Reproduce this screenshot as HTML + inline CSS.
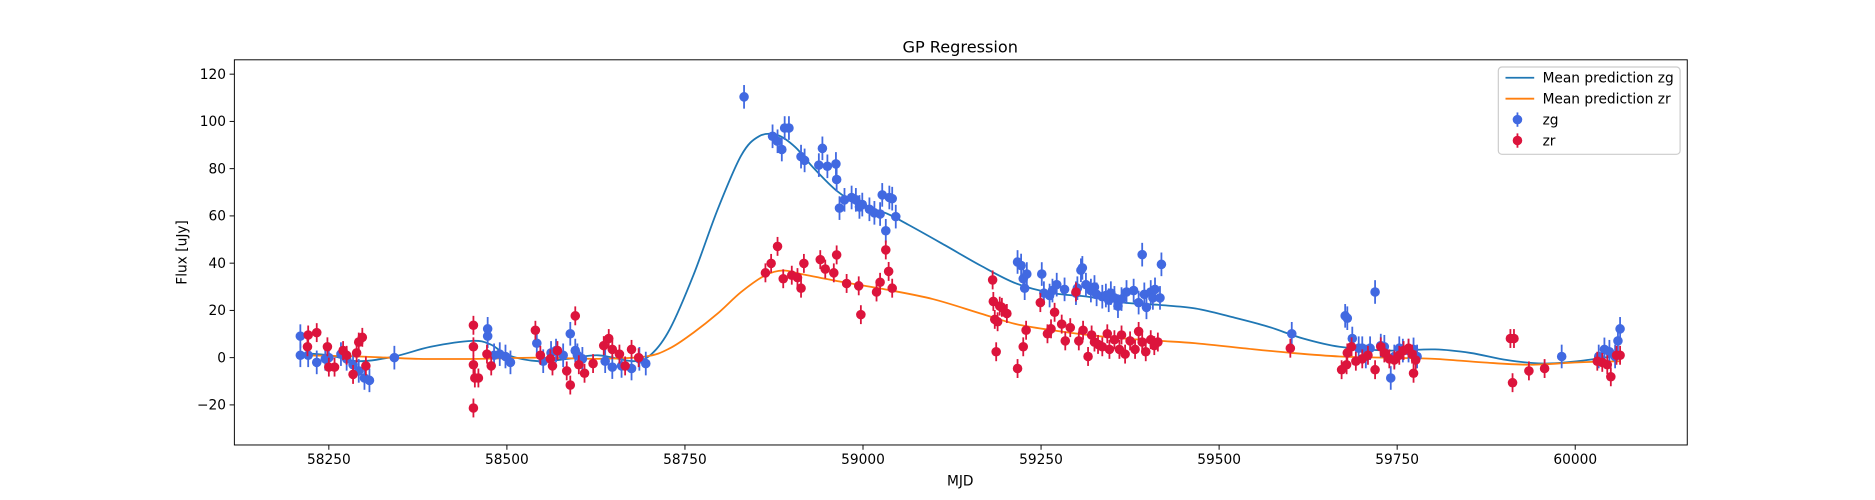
<!DOCTYPE html>
<html><head><meta charset="utf-8"><style>
body{margin:0;background:#fff;overflow:hidden;}
svg{font-family:"DejaVu Sans","Liberation Sans",sans-serif;display:block;}
</style></head><body>
<svg id="chart" width="1875" height="500" viewBox="0 0 1568 418" preserveAspectRatio="none" xmlns="http://www.w3.org/2000/svg">
<rect width="1568" height="418" fill="#fff"/>
<g id="plot"></g>
</svg>
<script>
const xTicks=[58250,58500,58750,59000,59250,59500,59750,60000];
const yTicks=[-20,0,20,40,60,80,100,120];
const zgMjd=[58210,58210,58221,58233,58245,58250,58267,58275,58284,58292,58300,58307,58342,58473,58473,58482,58490,58498,58505,58542,58551,58562,58569,58579,58589,58596,58599,58606,58638,58648,58661,58675,58686,58695,58833,58873,58880,58886,58890,58896,58913,58918,58938,58943,58950,58962,58963,58967,58974,58984,58990,58995,58999,59009,59016,59024,59027,59032,59037,59041,59046,59217,59222,59225,59227,59230,59251,59254,59262,59266,59272,59283,59299,59301,59306,59308,59313,59320,59325,59328,59336,59341,59345,59348,59353,59358,59363,59370,59380,59387,59392,59395,59398,59404,59407,59410,59417,59419,59602,59677,59680,59687,59696,59701,59706,59712,59719,59727,59732,59741,59746,59753,59758,59766,59773,59778,59981,60033,60041,60048,60056,60060,60063];
const zgFlux=[9.1,1.0,1.0,-2.0,-0.5,0,1.5,-0.5,-3,-5.6,-8.6,-9.6,0,9.1,12.2,1.0,1.5,0.5,-2.0,6.1,-1.5,2.0,3.0,1.0,10.1,3.0,1.0,-0.5,-1.5,-4.0,-3.5,-4.6,-0.5,-2.5,110.4,93.7,91.6,88.1,97.2,97.2,85.1,83.5,81.5,88.6,81.0,82.0,75.4,63.3,66.8,67.8,66.8,63.8,64.8,62.8,61.3,60.8,68.9,53.7,67.8,67.3,59.7,40.5,39.0,33.4,29.4,35.4,35.4,27.3,26.3,28.4,30.9,28.9,27.3,29.4,37.0,38.0,30.9,28.4,29.9,26.8,25.8,26.3,24.3,27.3,25.3,21.8,24.8,27.8,28.4,23.3,43.6,26.8,21.3,27.8,25.3,28.9,25.3,39.5,10.1,17.7,16.7,8.1,4.0,4.0,0.5,4.0,27.8,5.1,4.6,-8.6,0.5,4.0,3.0,3.0,3.5,0.5,0.5,0.5,3.5,2.5,0.5,7.1,12.2];
const zrMjd=[58220,58221,58233,58248,58250,58258,58270,58275,58284,58289,58292,58297,58302,58453,58453,58453,58455,58460,58453,58472,58478,58540,58547,58561,58564,58571,58584,58589,58596,58601,58609,58621,58636,58643,58648,58658,58666,58675,58685,58863,58871,58880,58888,58900,58908,58913,58917,58940,58947,58959,58963,58977,58994,58997,59019,59024,59032,59036,59041,59182,59183,59185,59187,59189,59192,59195,59202,59217,59225,59229,59249,59259,59264,59269,59279,59284,59291,59299,59303,59309,59316,59321,59325,59330,59336,59343,59346,59353,59360,59363,59368,59375,59382,59387,59392,59397,59404,59409,59414,59600,59672,59679,59680,59686,59692,59701,59709,59719,59727,59732,59739,59746,59753,59759,59766,59771,59773,59776,59909,59912,59914,59935,59957,60031,60038,60045,60050,60058,60063];
const zrFlux=[4.6,9.6,10.6,4.6,-4.0,-4.0,3.0,1.0,-7.1,2.0,6.6,8.6,-3.5,13.7,4.6,-3.0,-8.6,-8.6,-21.3,1.5,-3.5,11.6,1.0,-0.5,-3.5,3.0,-5.6,-11.6,17.7,-3.0,-6.6,-2.5,5.1,8.1,3.5,1.5,-3.5,3.5,0,35.9,39.9,47.1,33.4,34.9,33.9,29.4,39.9,41.5,37.5,35.9,43.5,31.4,30.4,18.2,27.8,31.9,45.6,36.5,29.4,32.9,23.8,16.2,2.5,15.2,21.8,21.3,18.7,-4.6,4.6,11.6,23.3,10.1,12.2,19.2,14.2,7.1,12.7,27.8,7.1,11.6,0.5,9.6,6.6,5.6,4.6,10.1,3.5,7.6,3.5,9.6,1.5,7.1,3.5,11.1,6.6,2.5,7.6,5.1,6.6,4.0,-5.1,-3.0,2.0,4.6,-1.5,-0.5,1.0,-5.1,4.6,2.0,-0.5,-1.0,1.0,3.0,4.0,1.5,-6.6,-1.0,8.1,-10.6,8.1,-5.6,-4.6,-1.5,-2.0,-3.0,-8.1,1.0,1.0];
const errZg=5, errZr=4;
const zgCurveMjd=[58208,58250,58292,58342,58393,58451,58477,58502,58544,58586,58628,58678,58703,58729,58762,58796,58829,58854,58880,58905,58930,58964,58997,59031,59064,59115,59165,59215,59266,59316,59366,59417,59467,59518,59568,59618,59669,59736,59803,59853,59904,59954,60004,60063];
const zgCurveFlux=[2.0,1.0,-1.5,0.5,4.6,7.1,5.6,1.0,-1.5,-0.5,1.0,-1.5,1.5,12.2,35.0,62.8,85.6,93.7,94.2,89.1,80.5,70.4,64.3,61.3,56.2,47.6,39.0,31.4,27.3,25.8,23.3,22.3,20.8,17.2,13.2,8.1,4.6,3.0,3.5,2.0,-1.0,-2.5,-1.5,1.0];
const zrCurveMjd=[58208,58292,58376,58460,58544,58628,58695,58729,58762,58796,58829,58863,58888,58913,58964,59031,59098,59165,59215,59266,59316,59366,59417,59467,59534,59602,59669,59736,59803,59870,59937,60004,60063];
const zrCurveFlux=[1.0,0.5,-0.5,-0.5,0,-0.5,0.5,4.0,10.6,18.7,27.8,34.9,36.9,35.4,32.4,28.9,24.8,18.7,14.2,11.6,9.6,8.1,7.1,6.1,4.0,2.0,0.5,0,-0.5,-2.0,-3.0,-2.0,-1.5];

const L=196,R=1411,T=50,B=372;
const X=v=>275+(v-58250)*0.5956;
const Y=v=>299-v*1.975;
const NS="http://www.w3.org/2000/svg";
const g=document.getElementById('plot');
function mk(tag,attrs,parent){const e=document.createElementNS(NS,tag);for(const k in attrs)e.setAttribute(k,attrs[k]);(parent||g).appendChild(e);return e;}
function txt(s,attrs,parent){const e=mk('text',attrs,parent);e.textContent=s;return e;}

xTicks.forEach(t=>{const x=X(t);
 const tk=mk('line',{x1:x,x2:x,y1:B,y2:B+4,stroke:'#000','stroke-width':0.8});
 
 
 const lb=txt(String(t),{x:x,y:B+16,'font-size':11.5,'text-anchor':'middle',fill:'#000'});
 
 
});
yTicks.forEach(t=>{const y=Y(t);
 const tk=mk('line',{x1:L-4,x2:L,y1:y,y2:y,stroke:'#000','stroke-width':0.8});
 
 
 const lb=txt(String(t).replace('-','\u2212'),{x:L-7,y:y+4,'font-size':11.5,'text-anchor':'end',fill:'#000'});
 
 
});

function curve(xs,ys,color,name){
 const p=xs.map((v,i)=>[X(v),Y(ys[i])]);
 let d='M'+p[0][0]+','+p[0][1];
 for(let i=0;i<p.length-1;i++){
  const p0=p[Math.max(0,i-1)],p1=p[i],p2=p[i+1],p3=p[Math.min(p.length-1,i+2)];
  const c1=[p1[0]+(p2[0]-p0[0])/6,p1[1]+(p2[1]-p0[1])/6];
  const c2=[p2[0]-(p3[0]-p1[0])/6,p2[1]-(p3[1]-p1[1])/6];
  d+=` C${c1[0]},${c1[1]} ${c2[0]},${c2[1]} ${p2[0]},${p2[1]}`;
 }
 const e=mk('path',{d:d,fill:'none',stroke:color,'stroke-width':1.5});
 
 
}
curve(zgCurveMjd,zgCurveFlux,'#1f77b4','mean-prediction-zg-line');
curve(zrCurveMjd,zrCurveFlux,'#ff7f0e','mean-prediction-zr-line');

function pts(xs,ys,err,color,name){
 xs.forEach((v,i)=>{const x=X(v),y=Y(ys[i]);
  const eb=mk('line',{x1:x,x2:x,y1:Y(ys[i]+err),y2:Y(ys[i]-err),stroke:color,'stroke-width':1.5});
  
  
  const c=mk('circle',{cx:x,cy:y,r:4,fill:color});
  
  
 });
}
pts(zgMjd,zgFlux,errZg,'#4169e1','zg');
pts(zrMjd,zrFlux,errZr,'#dc143c','zr');

const fr=mk('rect',{x:L,y:T,width:R-L,height:B-T,fill:'none',stroke:'#000','stroke-width':0.8});



const t1=txt('GP Regression',{x:803,y:44,'font-size':13.5,'text-anchor':'middle',fill:'#000'});


const xl=txt('MJD',{x:803,y:406,'font-size':11.5,'text-anchor':'middle',fill:'#000'});


const yl=txt('Flux [uJy]',{x:0,y:0,'font-size':11.5,'text-anchor':'middle',fill:'#000',transform:'translate(156,211) rotate(-90)'});



const lg=mk('g',{});


mk('rect',{x:1253,y:56,width:152,height:73,rx:3,fill:'#fff','fill-opacity':0.8,stroke:'#ccc','stroke-width':1},lg);
const entries=[['Mean prediction zg','#1f77b4','line'],['Mean prediction zr','#ff7f0e','line'],['zg','#4169e1','pt'],['zr','#dc143c','pt']];
entries.forEach((en,i)=>{const y=65+i*17.5;
 const eg=mk('g',{},lg);
 
 
 if(en[2]==='line'){mk('line',{x1:1259,x2:1283,y1:y,y2:y,stroke:en[1],'stroke-width':1.5},eg);}
 else{mk('line',{x1:1269,x2:1269,y1:y-6,y2:y+6,stroke:en[1],'stroke-width':1.5},eg);mk('circle',{cx:1269,cy:y,r:4,fill:en[1]},eg);}
 txt(en[0],{x:1290,y:y+4,'font-size':11.5,fill:'#000'},eg);
});
</script>
</body></html>
